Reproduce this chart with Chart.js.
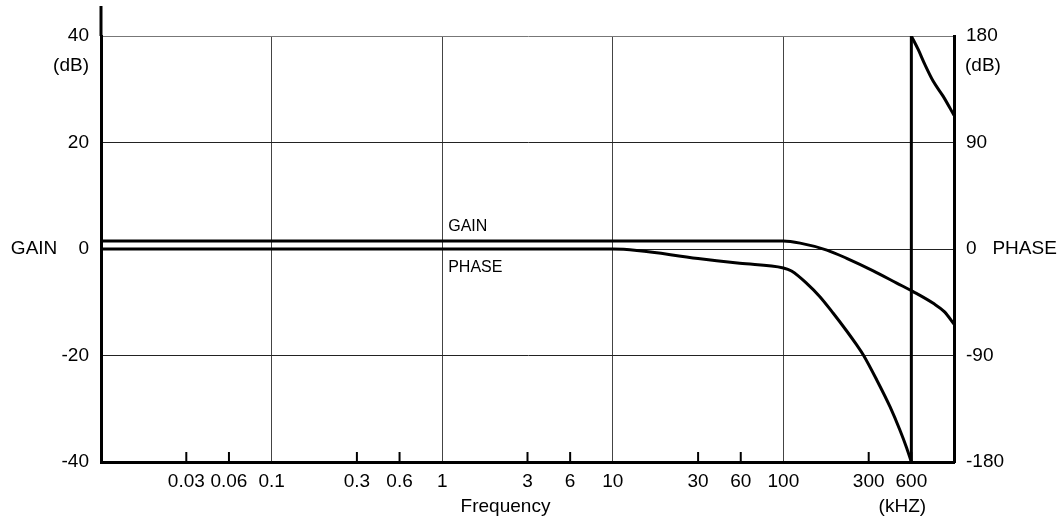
<!DOCTYPE html>
<html>
<head>
<meta charset="utf-8">
<script src="https://cdn.jsdelivr.net/npm/chart.js@4.4.1/dist/chart.umd.min.js"></script>
<style>
  html, body { margin: 0; padding: 0; background: #fff; }
  #wrap { width: 1064px; height: 521px; }
</style>
</head>
<body>
<div id="wrap"><canvas id="bode" width="1064" height="521"></canvas></div>
<script>
// tick labels on the frequency axis (kHz)
const tickFreqs = [0.03, 0.06, 0.1, 0.3, 0.6, 1, 3, 6, 10, 30, 60, 100, 300, 600];
const tickLabels = ['0.03', '0.06', '0.1', '0.3', '0.6', '1', '3', '6', '10', '30', '60', '100', '300', '600'];
const decadeLines = [0.1, 1, 10, 100];
const gainTicks = [-40, -20, 0, 20, 40];
const phaseTicks = [-180, -90, 0, 90, 180];

// gain curve (dB)
const gainFreq = [0.01, 100, 124, 175, 226, 323, 473, 613, 780, 893, 1000];
const gainDb = [1.5, 1.5, 1.1, -0.2, -1.75, -4.1, -6.4, -8.0, -10.2, -11.8, -14.1];

// phase curve (deg), wraps from -180 to 180 at 600 kHz
const phaseFreq = [0.01, 10, 30, 59, 100, 111, 135, 160, 190, 226, 257, 280, 342, 424, 498, 557, 600,
                   600, 652, 706, 780, 879, 1000];
const phaseDeg = [0, 0, -8.0, -12.1, -16.0, -18.6, -29, -40.3, -54.3, -69.3, -81.1, -89.6, -110.7, -133.3, -153, -168.4, -180,
                  180, 168.4, 155.8, 141.7, 129, 113];

const FONT = '"Liberation Sans", Arial, sans-serif';

// the paper puts 3 at half a decade and 6 at three quarters
function freqPos(f) {
    var e = Math.floor(Math.log10(f) + 1e-9);
    var m = f / Math.pow(10, e);
    var frac;
    if (m < 2.999) frac = 0.5 * Math.log(m) / Math.log(3);
    else if (m < 5.999) frac = 0.5 + 0.25 * Math.log(m / 3) / Math.log(2);
    else frac = 0.75 + 0.25 * Math.log(m / 6) / Math.log(10 / 6);
    return e + frac;
}

function pts(xs, ys) {
    return xs.map((f, i) => ({x: freqPos(f), y: ys[i]}));
}

// split phase where it jumps
var wrapAt = phaseFreq.findIndex((f, i) => i > 0 && f === phaseFreq[i - 1]);
var phaseA = pts(phaseFreq.slice(0, wrapAt), phaseDeg.slice(0, wrapAt));
var phaseB = pts(phaseFreq.slice(wrapAt), phaseDeg.slice(wrapAt));
var phaseJump = pts(phaseFreq.slice(wrapAt - 1, wrapAt + 1), phaseDeg.slice(wrapAt - 1, wrapAt + 1));

var lineStyle = {
    showLine: true,
    borderColor: '#000',
    borderWidth: 3,
    pointRadius: 0,
    fill: false,
    cubicInterpolationMode: 'monotone'
};

const bodeExtras = {
    id: 'bodeExtras',
    afterDraw(chart) {
        var c = chart.ctx, a = chart.chartArea;
        var xs = chart.scales.x, yL = chart.scales.y, yR = chart.scales.y2;
        c.save();
        c.strokeStyle = '#000';
        // left axis runs on above the 40 line
        c.lineWidth = 3;
        c.beginPath();
        c.moveTo(a.left, a.top - 30);
        c.lineTo(a.left, a.top);
        c.stroke();
        // short inside ticks
        c.lineWidth = 2;
        tickFreqs.forEach(f => {
            if (decadeLines.includes(f)) return;
            var px = xs.getPixelForValue(freqPos(f));
            c.beginPath();
            c.moveTo(px, a.bottom - 10);
            c.lineTo(px, a.bottom);
            c.stroke();
        });
        c.fillStyle = '#000';
        c.font = '19px ' + FONT;
        c.textBaseline = 'middle';
        c.textAlign = 'right';
        c.fillText('(dB)', a.left - 12, yL.getPixelForValue(40) + 30);
        c.textAlign = 'left';
        c.fillText('(dB)', a.right + 11, yR.getPixelForValue(180) + 30);
        c.textAlign = 'center';
        c.fillText('Frequency', (a.left + a.right) / 2 - 22, a.bottom + 45);
        c.fillText('(kHZ)', xs.getPixelForValue(freqPos(600)) - 9, a.bottom + 45);
        c.font = '16px ' + FONT;
        c.textAlign = 'left';
        c.fillText('GAIN', xs.getPixelForValue(freqPos(1)) + 6, yL.getPixelForValue(gainDb[0]) - 14);
        c.fillText('PHASE', xs.getPixelForValue(freqPos(1)) + 6, yR.getPixelForValue(phaseDeg[0]) + 19);
        c.restore();
    }
};

var bode = new Chart(document.getElementById('bode'), {
    type: 'scatter',
    data: {
        datasets: [
            Object.assign({label: 'GAIN', data: pts(gainFreq, gainDb), yAxisID: 'y'}, lineStyle),
            Object.assign({label: 'PHASE', data: phaseA, yAxisID: 'y2'}, lineStyle),
            Object.assign({label: 'PHASE', data: phaseJump, yAxisID: 'y2'}, lineStyle, {cubicInterpolationMode: 'default', tension: 0}),
            Object.assign({label: 'PHASE', data: phaseB, yAxisID: 'y2'}, lineStyle)
        ]
    },
    options: {
        responsive: false,
        animation: false,
        layout: {padding: {top: 36, left: 0, right: 0, bottom: 0}},
        plugins: {legend: {display: false}, tooltip: {enabled: false}},
        scales: {
            x: {
                type: 'linear',
                min: freqPos(0.01),
                max: freqPos(1000),
                afterBuildTicks: s => { s.ticks = tickFreqs.map(f => ({value: freqPos(f)})); },
                afterFit: s => { s.height = 59; },
                ticks: {
                    autoSkip: false,
                    maxRotation: 0,
                    padding: 8,
                    color: '#000',
                    font: {size: 19, family: FONT},
                    callback: (v, i) => tickLabels[i]
                },
                grid: {
                    drawTicks: false,
                    lineWidth: 1,
                    color: c => (c.tick && decadeLines.some(f => Math.abs(freqPos(f) - c.tick.value) < 1e-6)) ? '#444' : 'rgba(0,0,0,0)'
                },
                border: {display: true, color: '#000', width: 3}
            },
            y: {
                position: 'left',
                min: -40,
                max: 40,
                afterBuildTicks: s => { s.ticks = gainTicks.map(v => ({value: v})); },
                afterFit: s => { s.width = 101; },
                ticks: {
                    padding: 12,
                    color: '#000',
                    font: {size: 19, family: FONT},
                    callback: v => v === 0 ? 'GAIN    0' : String(v)
                },
                grid: {
                    drawTicks: false,
                    lineWidth: 1,
                    color: c => (c.tick && c.tick.value === 40) ? '#777' : '#222'
                },
                border: {display: true, color: '#000', width: 3}
            },
            y2: {
                position: 'right',
                min: -180,
                max: 180,
                afterBuildTicks: s => { s.ticks = phaseTicks.map(v => ({value: v})); },
                afterFit: s => { s.width = 110; },
                ticks: {
                    padding: 12,
                    color: '#000',
                    font: {size: 19, family: FONT},
                    callback: v => v === 0 ? '0   PHASE' : String(v)
                },
                grid: {drawOnChartArea: false, drawTicks: false},
                border: {display: true, color: '#000', width: 3}
            }
        }
    },
    plugins: [bodeExtras]
});
</script>
</body>
</html>
